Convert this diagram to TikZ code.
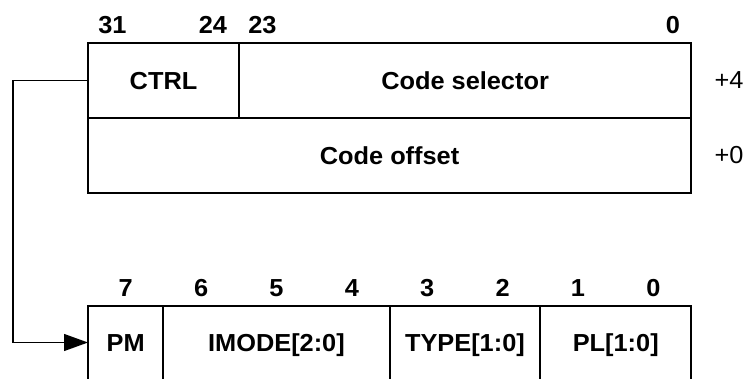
\documentclass[tikz,border=0pt]{standalone}
\usepackage{fontspec}
\setmainfont{Liberation Sans}[FakeStretch=1.03]
\usetikzlibrary{arrows.meta,positioning}
\newcommand{\bitfont}{\fontsize{17.5pt}{21pt}\selectfont\bfseries}
\newcommand{\offfont}{\fontsize{17.5pt}{21pt}\selectfont}

\begin{document}
\begin{tikzpicture}[x=0.025cm,y=-0.025cm,
  box/.style={line width=1.4pt},
  caps/.style={text height=12.5pt,text depth=0pt},
  cell/.style={draw,box,caps,inner sep=0pt,outer sep=0pt,minimum height=1.875cm,font=\bitfont},
  field/.style={caps,inner sep=0pt,outer sep=0pt,minimum height=1.825cm,font=\bitfont},
  bitno/.style={caps,font=\bitfont},
  link/.style={line width=1pt,-{Triangle[length=17pt,width=12pt]}}]
  \useasboundingbox (0,0) rectangle (746,379);
  % gate descriptor, upper half
  \node[cell,anchor=north west,minimum width=3.775cm] (ctrl) at (88,43) {CTRL};
  \node[cell,right=0pt of ctrl,minimum width=11.3cm] (sel) {Code selector};
  \node[cell,anchor=north west,minimum width=15.075cm] (off) at (ctrl.south west) {Code offset};
  \node[bitno] (b31) at (112.5,25) {31};
  \node[bitno] (b24) at (213,25) {24};
  \node[bitno] (b23) at (262.5,25) {23};
  \node[bitno] (b0)  at (673,25) {0};
  \node[caps,font=\offfont] (plus4) at (729,80) {+4};
  \node[caps,font=\offfont] (plus0) at (729,155) {+0};
  % CTRL byte
  \node[field,anchor=north west,minimum width=1.884cm] (pm) at (88,306) {PM};
  \node[field,right=0pt of pm,minimum width=5.653cm] (imode) {IMODE[2:0]};
  \node[field,right=0pt of imode,minimum width=3.769cm] (type) {TYPE[1:0]};
  \node[field,right=0pt of type,minimum width=3.769cm] (pl) {PL[1:0]};
  \draw[box] (pm.south west) -- (pm.north west) -- (pl.north east) -- (pl.south east);
  \foreach \n in {pm,imode,type}
    \draw[box] (\n.north east) -- (\n.south east);
  \foreach \b [evaluate=\b as \x using 88+(7.5-\b)*75.375] in {0,...,7}
    \node[bitno] (bit\b) at (\x,288) {\b};
  % expansion arrow
  \draw[link] (ctrl.west) -- ++(-75,0) |- (pm.west);
\end{tikzpicture}
\end{document}
